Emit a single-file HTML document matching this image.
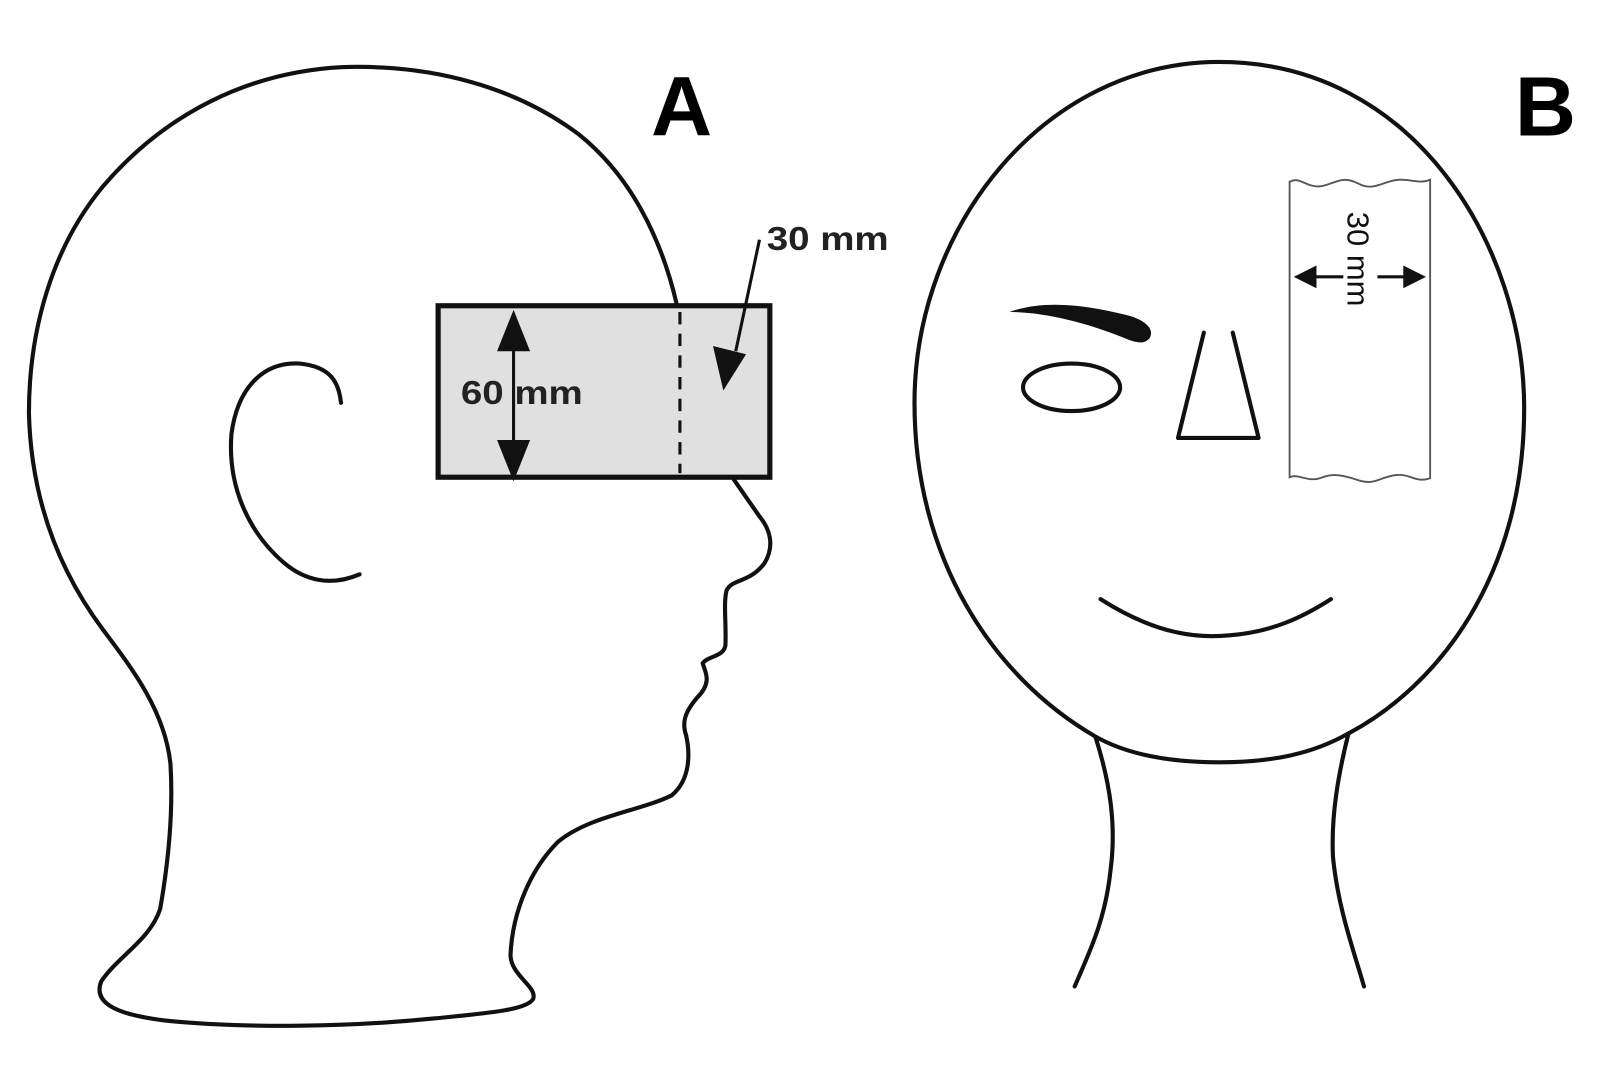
<!DOCTYPE html>
<html><head><meta charset="utf-8"><style>
html,body{margin:0;padding:0;background:#fff;}
svg{display:block;}
</style></head><body>
<svg width="1612" height="1066" viewBox="0 0 1560 1032" preserveAspectRatio="none" xmlns="http://www.w3.org/2000/svg">
<g fill="none" stroke="#111" stroke-width="4" stroke-linecap="round" stroke-linejoin="round">
<!-- head A -->
<path d="M655,295 C640,230 610,170 560,130 C500,85 420,62 330,65 C240,70 160,110 100,180 C50,240 28,320 28,400 C30,480 55,550 100,610 C130,650 160,690 165,740 C168,790 162,840 155,880 C145,910 115,925 98,950 C90,970 110,982 160,988 C240,996 340,994 420,986 C470,981 510,978 516,967 C520,955 495,945 494,925 C496,880 515,840 540,815 C570,790 620,785 650,770 C668,755 668,730 664,712 C660,700 662,690 675,675 C690,660 682,650 680,642 C685,635 700,636 702,625 C703,605 700,585 703,572 C708,560 725,565 740,545 C750,528 745,512 735,500 L710,464"/>
<!-- ear -->
<path d="M330,390 C328,370 320,355 290,352 C255,350 230,375 224,420 C220,470 240,515 275,545 C295,562 320,568 348,556"/>
<!-- head B -->
<path d="M1180,60 C1370,60 1475,240 1475,395 C1475,560 1390,665 1305,710 C1270,730 1230,738 1180,738 C1130,738 1090,730 1060,713 C960,655 885,540 885,390 C885,220 1010,60 1180,60 Z"/>
<path d="M1060,713 C1075,760 1080,800 1075,840 C1070,890 1055,920 1040,955"/>
<path d="M1305,710 C1295,750 1288,790 1290,830 C1295,880 1310,920 1320,955"/>
<ellipse cx="1037" cy="375" rx="47" ry="23"/>
<path d="M1165,322 L1140,424 L1218,424 L1193,322"/>
<path d="M1065,580 C1120,615 1160,618 1190,615 C1230,612 1260,598 1288,580"/>
</g>
<!-- eyebrow -->
<path d="M977,302 C1010,290 1050,295 1090,305 C1110,310 1118,320 1112,328 C1106,335 1095,330 1085,326 C1050,312 1010,302 977,302 Z" fill="#111"/>
<!-- box A -->
<rect x="424" y="296" width="321" height="166" fill="#e0e0e0" stroke="#111" stroke-width="5"/>
<line x1="658" y1="302" x2="658" y2="458" stroke="#111" stroke-width="3" stroke-dasharray="12,9"/>
<line x1="497" y1="330" x2="497" y2="435" stroke="#111" stroke-width="3"/>
<path d="M497,300 L481,340 L513,340 Z" fill="#111"/>
<path d="M497,466 L481,426 L513,426 Z" fill="#111"/>
<rect x="445" y="365" width="40" height="30" fill="#e0e0e0"/>
<text x="446" y="391" font-family="Liberation Sans, sans-serif" font-weight="bold" font-size="32" fill="#222" textLength="118" lengthAdjust="spacingAndGlyphs">60 mm</text>
<line x1="735" y1="232" x2="712" y2="340" stroke="#111" stroke-width="3"/>
<path d="M700,378 L690,335 L722,343 Z" fill="#111"/>
<text x="742" y="242" font-family="Liberation Sans, sans-serif" font-weight="bold" font-size="32" fill="#222" textLength="118" lengthAdjust="spacingAndGlyphs">30 mm</text>
<text x="630" y="131" font-family="Liberation Sans, sans-serif" font-weight="bold" font-size="82" fill="#000">A</text>
<text x="1466" y="131" font-family="Liberation Sans, sans-serif" font-weight="bold" font-size="82" fill="#000">B</text>
<!-- strip B -->
<path d="M1248,176 C1258,170 1265,183 1280,180 C1295,176 1300,170 1315,178 C1330,186 1340,174 1355,174 C1368,174 1375,178 1384,174 L1384,463 C1370,468 1365,458 1350,460 C1335,462 1330,470 1315,465 C1300,460 1290,458 1280,462 C1265,468 1258,458 1248,462 Z" fill="#fff" stroke="#555" stroke-width="1.8"/>
<line x1="1262" y1="268" x2="1300" y2="268" stroke="#111" stroke-width="3"/>
<path d="M1252,268 L1274,257 L1274,279 Z" fill="#111"/>
<line x1="1333" y1="268" x2="1370" y2="268" stroke="#111" stroke-width="3"/>
<path d="M1380,268 L1358,257 L1358,279 Z" fill="#111"/>
<text transform="translate(1304,205) rotate(90)" font-family="Liberation Sans, sans-serif" font-size="30" fill="#111">30 mm</text>
</svg>
</body></html>
